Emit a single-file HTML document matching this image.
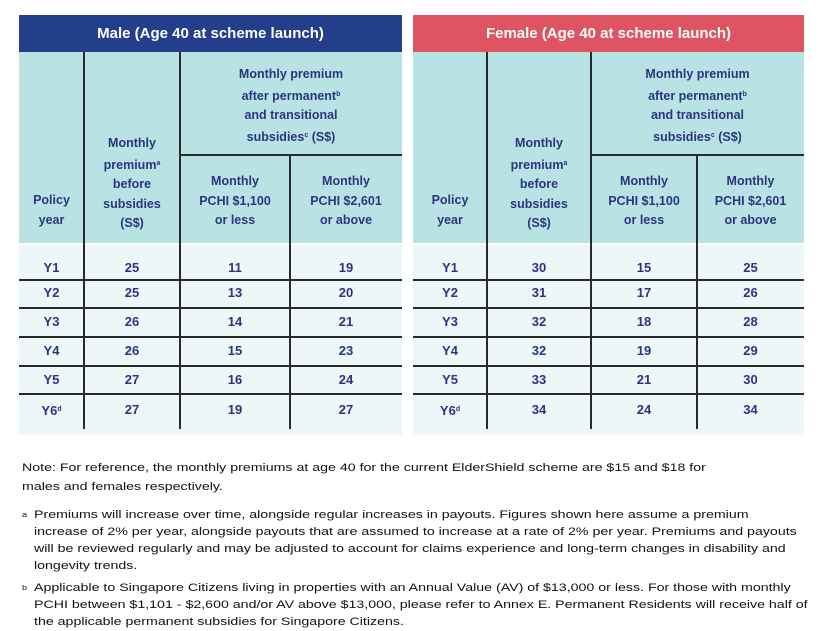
<!DOCTYPE html>
<html><head><meta charset="utf-8"><style>
body{margin:0;width:830px;height:622px;background:#fff;position:relative;overflow:hidden;font-family:"Liberation Sans",sans-serif;}
div{position:absolute;box-sizing:border-box}
.hd{color:#fff;font-weight:bold;font-size:15px;text-align:center;line-height:37px;top:15px;height:37px}
.teal{background:#b9e2e4;top:52px;height:191px}
.light{background:#eef7f7;top:245px;height:190px}
.v{width:2px;background:#2a2a2a;top:52px;height:377px}
.h{height:2px;background:#2a2a2a}
.t{color:#2b3580;font-weight:bold;font-size:12.5px;text-align:center;line-height:19.5px}
.d{color:#2b3580;font-weight:bold;font-size:13px;text-align:center;line-height:16px}
.n{color:#111;font-size:11px;line-height:17px;white-space:nowrap;left:22px;transform:scaleX(1.29);transform-origin:0 0}
sup{font-size:7px;vertical-align:4px}
</style></head><body>
<!-- Male -->
<div class="hd" style="left:19px;width:383px;background:#233e8b">Male (Age 40 at scheme launch)</div>
<div class="teal" style="left:19px;width:383px"></div>
<div class="light" style="left:19px;width:383px"></div>
<div class="h" style="left:180px;width:222px;top:154px"></div>
<div class="v" style="left:83px"></div><div class="v" style="left:179px"></div>
<div class="v" style="left:289px;top:154px;height:275px"></div>
<div class="t" style="left:180px;width:222px;top:65px">Monthly premium<br>after permanent<sup>b</sup><br>and transitional<br>subsidies<sup>c</sup> (S$)</div>
<div class="t" style="left:84px;width:96px;top:134px">Monthly<br>premium<sup>a</sup><br>before<br>subsidies<br>(S$)</div>
<div class="t" style="left:19px;width:65px;top:191px">Policy<br>year</div>
<div class="t" style="left:180px;width:110px;top:172px">Monthly<br>PCHI $1,100<br>or less</div>
<div class="t" style="left:290px;width:112px;top:172px">Monthly<br>PCHI $2,601<br>or above</div>
<!-- Female -->
<div class="hd" style="left:413px;width:391px;background:#de5462">Female (Age 40 at scheme launch)</div>
<div class="teal" style="left:413px;width:391px"></div>
<div class="light" style="left:413px;width:391px"></div>
<div class="h" style="left:591px;width:213px;top:154px"></div>
<div class="v" style="left:486px"></div><div class="v" style="left:590px"></div>
<div class="v" style="left:696px;top:154px;height:275px"></div>
<div class="t" style="left:591px;width:213px;top:65px">Monthly premium<br>after permanent<sup>b</sup><br>and transitional<br>subsidies<sup>c</sup> (S$)</div>
<div class="t" style="left:487px;width:104px;top:134px">Monthly<br>premium<sup>a</sup><br>before<br>subsidies<br>(S$)</div>
<div class="t" style="left:413px;width:74px;top:191px">Policy<br>year</div>
<div class="t" style="left:591px;width:106px;top:172px">Monthly<br>PCHI $1,100<br>or less</div>
<div class="t" style="left:697px;width:107px;top:172px">Monthly<br>PCHI $2,601<br>or above</div>
<!-- row lines -->
<div class="h" style="left:19px;width:383px;top:279px"></div><div class="h" style="left:413px;width:391px;top:279px"></div>
<div class="h" style="left:19px;width:383px;top:307px"></div><div class="h" style="left:413px;width:391px;top:307px"></div>
<div class="h" style="left:19px;width:383px;top:336px"></div><div class="h" style="left:413px;width:391px;top:336px"></div>
<div class="h" style="left:19px;width:383px;top:365px"></div><div class="h" style="left:413px;width:391px;top:365px"></div>
<div class="h" style="left:19px;width:383px;top:393px"></div><div class="h" style="left:413px;width:391px;top:393px"></div>
<!-- male data -->
<div class="d" style="left:19px;width:65px;top:260px">Y1</div>
<div class="d" style="left:19px;width:65px;top:285px">Y2</div>
<div class="d" style="left:19px;width:65px;top:314px">Y3</div><div class="d" style="left:19px;width:65px;top:343px">Y4</div><div class="d" style="left:19px;width:65px;top:372px">Y5</div><div class="d" style="left:19px;width:65px;top:402px">Y6<sup>d</sup></div>
<div class="d" style="left:84px;width:96px;top:260px">25</div><div class="d" style="left:84px;width:96px;top:285px">25</div><div class="d" style="left:84px;width:96px;top:314px">26</div><div class="d" style="left:84px;width:96px;top:343px">26</div><div class="d" style="left:84px;width:96px;top:372px">27</div><div class="d" style="left:84px;width:96px;top:402px">27</div>
<div class="d" style="left:180px;width:110px;top:260px">11</div><div class="d" style="left:180px;width:110px;top:285px">13</div><div class="d" style="left:180px;width:110px;top:314px">14</div><div class="d" style="left:180px;width:110px;top:343px">15</div><div class="d" style="left:180px;width:110px;top:372px">16</div><div class="d" style="left:180px;width:110px;top:402px">19</div>
<div class="d" style="left:290px;width:112px;top:260px">19</div><div class="d" style="left:290px;width:112px;top:285px">20</div><div class="d" style="left:290px;width:112px;top:314px">21</div><div class="d" style="left:290px;width:112px;top:343px">23</div><div class="d" style="left:290px;width:112px;top:372px">24</div><div class="d" style="left:290px;width:112px;top:402px">27</div>
<!-- female data -->
<div class="d" style="left:413px;width:74px;top:260px">Y1</div><div class="d" style="left:413px;width:74px;top:285px">Y2</div><div class="d" style="left:413px;width:74px;top:314px">Y3</div><div class="d" style="left:413px;width:74px;top:343px">Y4</div><div class="d" style="left:413px;width:74px;top:372px">Y5</div><div class="d" style="left:413px;width:74px;top:402px">Y6<sup>d</sup></div>
<div class="d" style="left:487px;width:104px;top:260px">30</div><div class="d" style="left:487px;width:104px;top:285px">31</div><div class="d" style="left:487px;width:104px;top:314px">32</div><div class="d" style="left:487px;width:104px;top:343px">32</div><div class="d" style="left:487px;width:104px;top:372px">33</div><div class="d" style="left:487px;width:104px;top:402px">34</div>
<div class="d" style="left:591px;width:106px;top:260px">15</div><div class="d" style="left:591px;width:106px;top:285px">17</div><div class="d" style="left:591px;width:106px;top:314px">18</div><div class="d" style="left:591px;width:106px;top:343px">19</div><div class="d" style="left:591px;width:106px;top:372px">21</div><div class="d" style="left:591px;width:106px;top:402px">24</div>
<div class="d" style="left:697px;width:107px;top:260px">25</div><div class="d" style="left:697px;width:107px;top:285px">26</div><div class="d" style="left:697px;width:107px;top:314px">28</div><div class="d" style="left:697px;width:107px;top:343px">29</div><div class="d" style="left:697px;width:107px;top:372px">30</div><div class="d" style="left:697px;width:107px;top:402px">34</div>
<!-- notes -->
<div class="n" style="top:460px">Note: For reference, the monthly premiums at age 40 for the current ElderShield scheme are $15 and $18 for</div>
<div class="n" style="top:479px">males and females respectively.</div>
<div class="n" style="top:507px"><sup>a</sup></div>
<div class="n" style="top:507px;left:34px">Premiums will increase over time, alongside regular increases in payouts. Figures shown here assume a premium</div>
<div class="n" style="top:524px;left:34px">increase of 2% per year, alongside payouts that are assumed to increase at a rate of 2% per year. Premiums and payouts</div>
<div class="n" style="top:541px;left:34px">will be reviewed regularly and may be adjusted to account for claims experience and long-term changes in disability and</div>
<div class="n" style="top:558px;left:34px">longevity trends.</div>
<div class="n" style="top:580px"><sup>b</sup></div>
<div class="n" style="top:580px;left:34px">Applicable to Singapore Citizens living in properties with an Annual Value (AV) of $13,000 or less. For those with monthly</div>
<div class="n" style="top:597px;left:34px">PCHI between $1,101 - $2,600 and/or AV above $13,000, please refer to Annex E. Permanent Residents will receive half of</div>
<div class="n" style="top:614px;left:34px">the applicable permanent subsidies for Singapore Citizens.</div>
</body></html>
